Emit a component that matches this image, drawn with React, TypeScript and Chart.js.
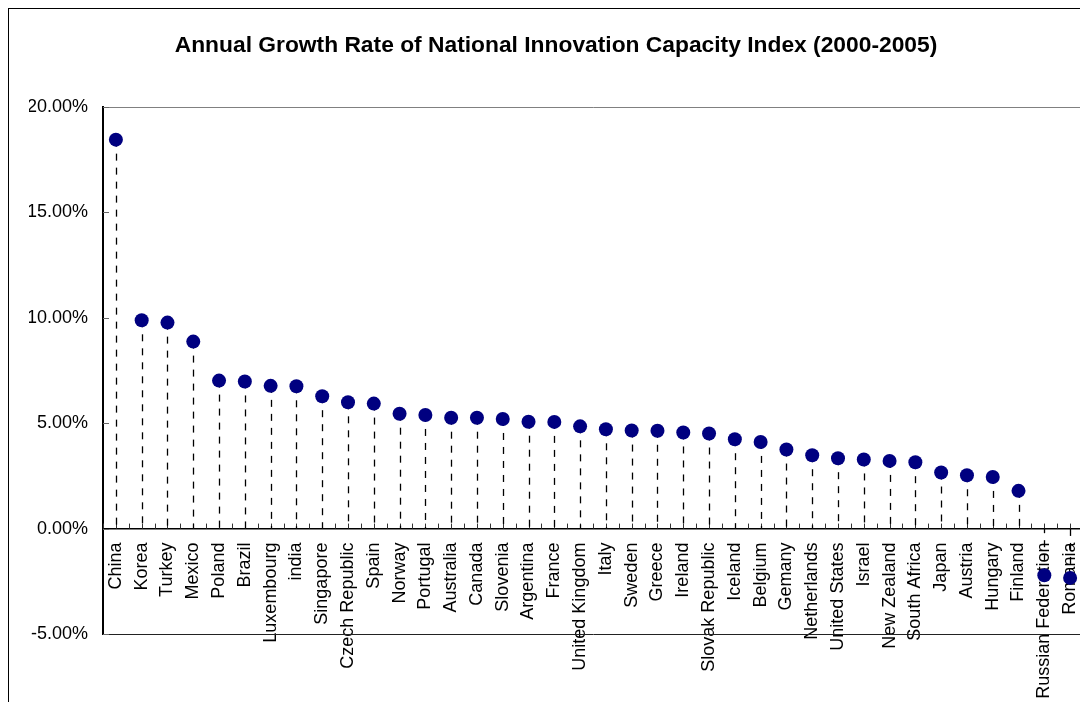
import React, { useEffect, useRef } from 'react';
import { Chart, registerables } from 'chart.js';

Chart.register(...registerables);

const TITLE = 'Annual Growth Rate of National Innovation Capacity Index (2000-2005)';

const countries = [
  'China', 'Korea', 'Turkey', 'Mexico', 'Poland', 'Brazil', 'Luxembourg', 'india',
  'Singapore', 'Czech Republic', 'Spain', 'Norway', 'Portugal', 'Australia', 'Canada',
  'Slovenia', 'Argentina', 'France', 'United Kingdom', 'Italy', 'Sweden', 'Greece',
  'Ireland', 'Slovak Republic', 'Iceland', 'Belgium', 'Gemany', 'Netherlands',
  'United States', 'Israel', 'New Zealand', 'South Africa', 'Japan', 'Austria',
  'Hungary', 'Finland', 'Russian Federation', 'Romania',
];

const growthRates = [
  18.45, 9.88, 9.77, 8.87, 7.02, 6.98, 6.77, 6.75,
  6.28, 5.99, 5.93, 5.45, 5.39, 5.26, 5.26,
  5.2, 5.07, 5.06, 4.85, 4.71, 4.65, 4.64,
  4.56, 4.51, 4.24, 4.11, 3.75, 3.48,
  3.34, 3.28, 3.21, 3.15, 2.66, 2.53,
  2.45, 1.79, -2.21, -2.34,
];

const Y_MIN = -5;
const Y_MAX = 20;
const Y_STEP = 5;

const FONT = '"Liberation Sans", Arial, Helvetica, sans-serif';

const stemPlugin = {
  id: 'stems',
  beforeDatasetsDraw(chart: any) {
    const { ctx, chartArea: a, scales } = chart;
    const xs = scales.x;
    const ys = scales.y;
    ctx.save();
    // plot area frame
    ctx.lineWidth = 1;
    ctx.strokeStyle = '#808080';
    ctx.beginPath();
    ctx.moveTo(a.left, Math.round(a.top) + 0.5);
    ctx.lineTo(Math.round(a.right) + 0.5, Math.round(a.top) + 0.5);
    ctx.lineTo(Math.round(a.right) + 0.5, Math.round(a.bottom) + 1);
    ctx.stroke();
    ctx.strokeStyle = '#222';
    ctx.beginPath();
    ctx.moveTo(a.left, Math.round(a.bottom) + 0.5);
    ctx.lineTo(Math.round(a.right) + 1, Math.round(a.bottom) + 0.5);
    ctx.stroke();

    // y-axis inside tick marks
    ctx.strokeStyle = '#666';
    ctx.beginPath();
    for (let v = Y_MIN; v <= Y_MAX; v += Y_STEP) {
      const py = Math.round(ys.getPixelForValue(v)) + 0.5;
      ctx.moveTo(a.left, py);
      ctx.lineTo(a.left + 6, py);
    }
    ctx.stroke();

    // x-axis tick marks (every half category) pointing up
    const y0 = ys.getPixelForValue(0);
    ctx.strokeStyle = '#333';
    ctx.beginPath();
    for (let k = 0; k <= countries.length * 2; k++) {
      const px = Math.round(xs.getPixelForValue(-0.5 + k * 0.5)) + 0.5;
      ctx.moveTo(px, y0);
      ctx.lineTo(px, y0 - 5);
    }
    ctx.stroke();

    // dashed drop lines
    ctx.strokeStyle = '#000';
    ctx.lineWidth = 1.3;
    ctx.setLineDash([7, 7]);
    growthRates.forEach((v, i) => {
      const px = Math.round(xs.getPixelForValue(i)) + 0.5;
      const py = ys.getPixelForValue(v);
      ctx.beginPath();
      ctx.moveTo(px, py);
      ctx.lineTo(px, y0);
      ctx.stroke();
    });
    ctx.restore();
  },
};

export default function App() {
  const ref = useRef<HTMLCanvasElement | null>(null);

  useEffect(() => {
    if (!ref.current) return;
    const chart = new Chart(ref.current, {
      type: 'line',
      data: {
        labels: countries,
        datasets: [
          {
            data: growthRates,
            showLine: false,
            pointRadius: 7,
            pointHoverRadius: 7,
            pointBackgroundColor: '#000080',
            pointBorderColor: '#000080',
            pointBorderWidth: 0,
            clip: false,
          } as any,
        ],
      },
      options: {
        responsive: false,
        animation: false,
        events: [],
        layout: { padding: { left: 20, right: 20, top: 0, bottom: 155 } },
        plugins: {
          legend: { display: false },
          tooltip: { enabled: false },
          title: {
            display: true,
            text: TITLE,
            color: '#000',
            font: { family: FONT, size: 22.8, weight: 'bold' },
            padding: { top: 23, bottom: 47.6 },
          },
        },
        scales: {
          x: {
            type: 'category',
            offset: true,
            position: { y: 0 } as any,
            grid: { display: false, drawTicks: false },
            border: { display: true, color: '#000', width: 1.5 },
            ticks: {
              autoSkip: false,
              minRotation: 90,
              maxRotation: 90,
              padding: 14,
              color: '#000',
              font: { family: FONT, size: 18 },
            },
            afterFit(s: any) {
              s.height = 10;
              s.paddingLeft = 0;
              s.paddingRight = 0;
              s.paddingTop = 0;
              s.paddingBottom = 0;
            },
          },
          y: {
            min: Y_MIN,
            max: Y_MAX,
            ticks: {
              stepSize: Y_STEP,
              padding: 15,
              color: '#000',
              font: { family: FONT, size: 18 },
              callback: (v: any) => Number(v).toFixed(2) + '%',
            },
            grid: { display: false, drawTicks: false },
            border: { display: true, color: '#000', width: 2 },
            afterFit(s: any) {
              s.width = 74;
              s.paddingLeft = 0;
            },
          },
        },
      } as any,
      plugins: [stemPlugin],
    });
    return () => chart.destroy();
  }, []);

  return (
    <div style={{ width: 1081, height: 695, overflow: 'hidden', marginLeft: -1, marginTop: -1 }}>
      <div
        style={{
          width: 1098,
          height: 784,
          border: '2px solid #000',
          boxSizing: 'border-box',
          background: '#fff',
        }}
      >
        <canvas ref={ref} width={1094} height={780} style={{ display: 'block' }} />
      </div>
    </div>
  );
}
